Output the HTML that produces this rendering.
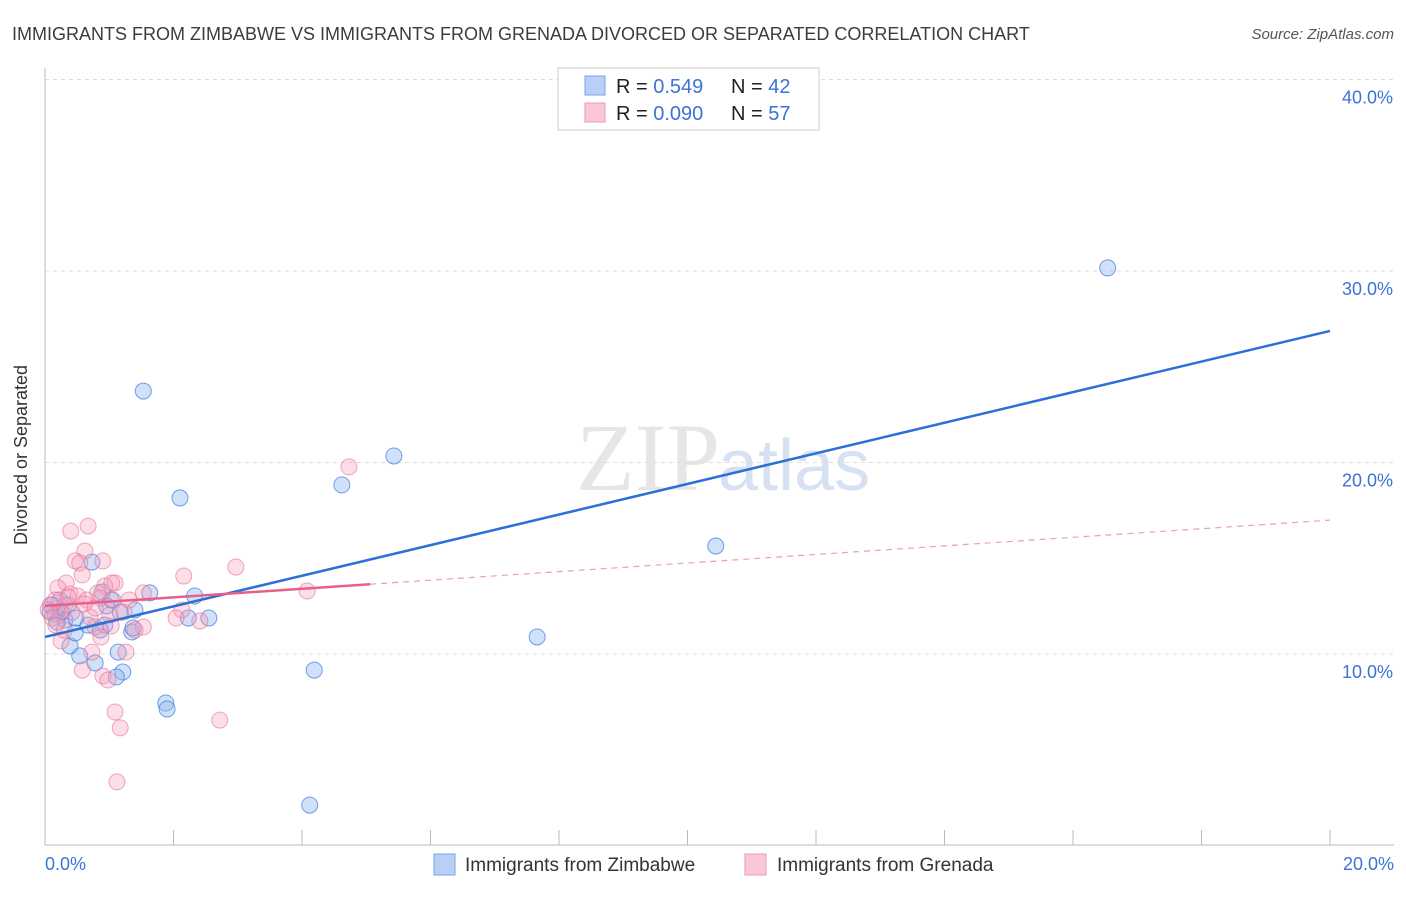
<!DOCTYPE html>
<html><head><meta charset="utf-8"><style>
body{margin:0;background:#fff;font-family:"Liberation Sans",sans-serif}
</style></head><body>
<svg width="1406" height="892" xmlns="http://www.w3.org/2000/svg">
<text x="12" y="40" font-size="18" fill="#3c3c3c">IMMIGRANTS FROM ZIMBABWE VS IMMIGRANTS FROM GRENADA DIVORCED OR SEPARATED CORRELATION CHART</text>
<text x="1394" y="39" font-size="15" fill="#555" text-anchor="end" font-style="italic">Source: ZipAtlas.com</text>
<text x="720" y="490" font-size="96" fill="#e6e6e6" text-anchor="end" font-family="Liberation Serif">ZIP</text>
<text x="718" y="490" font-size="72" fill="#d6e2f3">atlas</text>
<g id="grid"></g>
<line x1="45" y1="68" x2="45" y2="845" stroke="#bbb"/>
<line x1="45" y1="845" x2="1394" y2="845" stroke="#bbb"/>
<g id="ticks"></g>
<text x="27" y="455" font-size="18" fill="#333" text-anchor="middle" transform="rotate(-90 27 455)">Divorced or Separated</text>
<text x="45" y="870" font-size="18" fill="#3b73d6">0.0%</text>
<text x="1394" y="870" font-size="18" fill="#3b73d6" text-anchor="end">20.0%</text>
<g id="points"></g>
<g id="trends"></g>
<g>
<rect x="558" y="68" width="261" height="62" fill="#fff" stroke="#ccc"/>
<rect x="585" y="76" width="20" height="19" fill="#b8d0f5" stroke="#7aa3e6"/>
<rect x="585" y="103" width="20" height="19" fill="#f9c7d5" stroke="#ee9ab3"/>
<text x="616" y="93" font-size="20" fill="#222">R = <tspan fill="#3b73d6">0.549</tspan><tspan x="731">N = </tspan><tspan fill="#3b73d6">42</tspan></text>
<text x="616" y="120" font-size="20" fill="#222">R = <tspan fill="#3b73d6">0.090</tspan><tspan x="731">N = </tspan><tspan fill="#3b73d6">57</tspan></text>
</g>
<g>
<rect x="434" y="854" width="21" height="21" fill="#b8d0f5" stroke="#7aa3e6"/>
<text x="465" y="871" font-size="19" fill="#333">Immigrants from Zimbabwe</text>
<rect x="745" y="854" width="21" height="21" fill="#f9c7d5" stroke="#ee9ab3"/>
<text x="777" y="871" font-size="19" fill="#333">Immigrants from Grenada</text>
</g>
</svg>
<script>
const yTicks=[10,20,30,40];
const xTicks=[2,4,6,8,10,12,14,16,18,20];
const blueX=[1.53,2.10,5.43,4.62,16.54,10.44,7.66,4.19,4.12,1.88,1.90,0.73,1.63,2.33,2.55,2.23,1.21,1.11,0.78,0.54,0.39,0.47,0.67,0.93,1.35,1.37,1.17,1.03,0.96,0.89,1.14,0.31,0.23,0.16,0.11,0.08,0.36,0.26,0.48,1.40,0.86,0.19];
const blueY=[23.73,18.15,20.34,18.83,30.16,15.64,10.89,9.16,2.11,7.44,7.13,14.80,13.19,13.03,11.88,11.88,9.06,8.80,9.53,9.90,10.42,11.10,11.51,11.51,11.15,11.36,12.19,12.82,12.51,13.24,10.10,11.78,12.82,12.09,12.56,12.19,12.56,12.19,11.88,12.30,11.25,11.67];
const pinkX=[4.73,0.67,0.40,0.62,0.47,0.54,0.90,2.97,2.16,0.58,0.33,0.20,1.09,0.93,1.53,0.82,4.08,0.39,0.51,0.65,2.13,2.04,2.41,1.23,1.53,1.03,0.78,0.87,1.26,0.25,0.58,0.90,0.98,1.09,1.17,2.72,1.12,0.73,0.16,0.08,0.05,0.23,0.31,0.42,0.11,0.17,0.30,0.70,1.01,1.31,1.04,0.86,1.40,1.06,0.61,0.78,0.36];
const pinkY=[19.77,16.68,16.42,15.38,14.86,14.75,14.86,14.54,14.07,14.13,13.71,13.45,13.71,13.55,13.19,13.19,13.29,13.13,13.03,12.82,12.30,11.88,11.72,12.19,11.41,11.46,11.41,10.89,10.10,10.68,9.16,8.85,8.64,6.97,6.14,6.55,3.32,10.10,12.82,12.56,12.30,12.19,12.56,12.19,11.88,11.51,11.25,11.93,12.04,12.82,13.71,12.92,11.25,12.82,12.61,12.40,12.98];
const blueTrend=[10.89,26.87];
const pinkTrend=[12.51,16.99];
const pinkSolidEnd=5.06;
const NS='http://www.w3.org/2000/svg';
const sx=v=>45+v*64.25, sy=v=>654-(v-10)*19.15;
function mk(t,a,p){const e=document.createElementNS(NS,t);for(const k in a)e.setAttribute(k,a[k]);document.getElementById(p).appendChild(e);return e;}
yTicks.forEach(t=>{
 const l=mk('line',{x1:45,x2:1394,y1:sy(t),y2:sy(t),stroke:'#ddd','stroke-dasharray':'4 4'},'grid');
 
 
 const tx=mk('text',{x:1393,y:sy(t)+24,'font-size':18,fill:'#3b73d6','text-anchor':'end'},'grid');
 tx.textContent=t.toFixed(1)+'%';
 
 
});
xTicks.forEach(t=>{
 const l=mk('line',{x1:sx(t),x2:sx(t),y1:830,y2:845,stroke:'#bbb'},'ticks');
 
 
});
blueX.forEach((x,i)=>{
 const c=mk('circle',{cx:sx(x),cy:sy(blueY[i]),r:8,fill:'rgba(140,180,240,0.4)',stroke:'rgba(60,120,220,0.7)','stroke-width':1},'points');
 
 
});
pinkX.forEach((x,i)=>{
 const c=mk('circle',{cx:sx(x),cy:sy(pinkY[i]),r:8,fill:'rgba(245,160,185,0.35)',stroke:'rgba(230,110,150,0.6)','stroke-width':1},'points');
 
 
});
const bl=mk('line',{x1:sx(0),y1:sy(blueTrend[0]),x2:sx(20),y2:sy(blueTrend[1]),stroke:'#2c6fd6','stroke-width':2.5},'trends');


const pm=pinkTrend[0]+(pinkTrend[1]-pinkTrend[0])*pinkSolidEnd/20;
const pl=mk('line',{x1:sx(0),y1:sy(pinkTrend[0]),x2:sx(pinkSolidEnd),y2:sy(pm),stroke:'#e8608a','stroke-width':2.5},'trends');


const pd=mk('line',{x1:sx(pinkSolidEnd),y1:sy(pm),x2:sx(20),y2:sy(pinkTrend[1]),stroke:'#e8a0b8','stroke-width':1.2,'stroke-dasharray':'6 5'},'trends');


</script>
</body></html>
